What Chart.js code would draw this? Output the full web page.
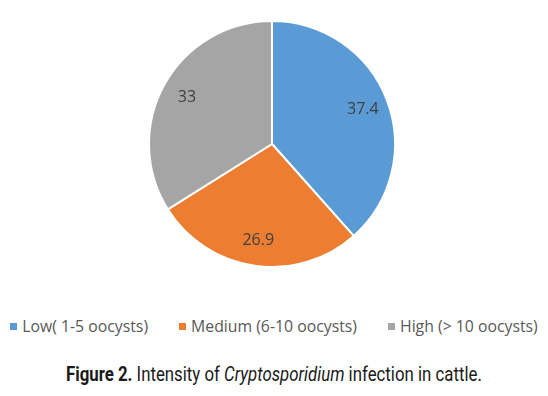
<!DOCTYPE html>
<html>
<head>
<meta charset="utf-8">
<script src="https://cdn.jsdelivr.net/npm/chart.js@4.4.1/dist/chart.umd.min.js"></script>
<style>
    body { margin: 0; background: #fff; }
    #wrap { position: relative; width: 548px; height: 396px; overflow: hidden; }
    #chartBox { position: absolute; left: 0; top: 0; width: 548px; height: 288px; }
    #custom-legend { position: absolute; left: 0; top: 315px; width: 548px; display: flex; justify-content: center; font-family: "Open Sans", "Noto Sans", sans-serif; font-size: 15.8px; color: #595959; }
    .legend-item { display: flex; align-items: center; margin: 0 15.5px; white-space: nowrap; }
    .legend-box { width: 7px; height: 7px; margin-right: 5px; }
    #caption { position: absolute; left: 0; top: 362px; width: 548px; text-align: center; }
    #caption span { display: inline-block; font-family: "Roboto", "Liberation Sans", sans-serif; font-size: 21px; color: #1a1a1a; transform-origin: center; white-space: nowrap; }
</style>
</head>
<body>
<div id="wrap">
    <div id="chartBox"><canvas id="pieChart"></canvas></div>
    <div id="custom-legend"></div>
    <div id="caption"><span id="capText"><b>Figure 2.</b> Intensity of <i>Cryptosporidium</i> infection in cattle.</span></div>
</div>
<script>
const categories = ['Low( 1-5 oocysts)', 'Medium (6-10 oocysts)', 'High (> 10 oocysts)'];
const values = [37.4, 26.9, 33];
const colors = ['#5B9BD5', '#ED7D31', '#A5A5A5'];

// labels drawn inside each slice
const sliceLabels = {
    id: 'sliceLabels',
    afterDatasetsDraw(chart) {
        const ctx = chart.ctx;
        const meta = chart.getDatasetMeta(0);
        ctx.save();
        ctx.font = '16px "Open Sans", "Noto Sans", sans-serif';
        ctx.fillStyle = '#404040';
        ctx.textAlign = 'center';
        ctx.textBaseline = 'middle';
        meta.data.forEach((arc, i) => {
            const p = arc.getProps(['x', 'y', 'startAngle', 'endAngle', 'outerRadius'], true);
            const mid = (p.startAngle + p.endAngle) / 2;
            const r = p.outerRadius * 0.79;
            ctx.fillText(String(chart.data.datasets[0].data[i]), p.x + Math.cos(mid) * r, p.y + Math.sin(mid) * r);
        });
        ctx.restore();
    }
};

document.addEventListener('DOMContentLoaded', () => {
    const ctx = document.getElementById('pieChart').getContext('2d');
    const pieChart = new Chart(ctx, {
        type: 'pie',
        data: {
            labels: categories,
            datasets: [{
                data: values,
                backgroundColor: colors,
                borderColor: '#ffffff',
                borderWidth: 2
            }]
        },
        options: {
            responsive: true,
            maintainAspectRatio: false,
            animation: false,
            layout: { padding: { top: 20, bottom: 20, right: 4 } },
            plugins: {
                legend: { display: false },
                tooltip: { enabled: false }
            }
        },
        plugins: [sliceLabels]
    });

    const customLegend = document.getElementById('custom-legend');
    pieChart.data.labels.forEach((label, index) => {
        const item = document.createElement('div');
        item.classList.add('legend-item');
        const box = document.createElement('div');
        box.classList.add('legend-box');
        box.style.background = colors[index];
        item.appendChild(box);
        const text = document.createElement('span');
        text.textContent = label;
        item.appendChild(text);
        customLegend.appendChild(item);
    });

    // squeeze caption to look condensed
    const cap = document.getElementById('capText');
    const w = cap.getBoundingClientRect().width;
    cap.style.transform = 'scaleX(' + (416 / w).toFixed(3) + ')';
});
</script>
</body>
</html>
